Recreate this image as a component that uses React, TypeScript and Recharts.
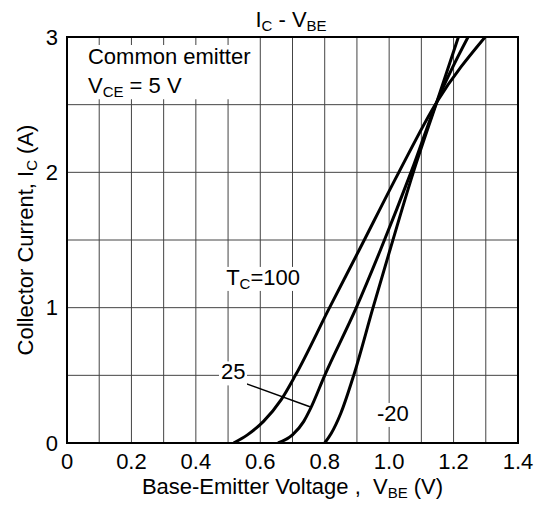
import React from 'react';
import {
  LineChart,
  Line,
  XAxis,
  YAxis,
  CartesianGrid,
  ReferenceArea,
  ReferenceLine,
  ReferenceDot,
} from 'recharts';

const FONT = '"Liberation Sans", Arial, Helvetica, sans-serif';
const FS = 22;
const SUB = 15;

// Axis ticks
const xTicks = [0, 0.1, 0.2, 0.3, 0.4, 0.5, 0.6, 0.7, 0.8, 0.9, 1.0, 1.1, 1.2, 1.3, 1.4];
const xTickLabels = ['0', '', '0.2', '', '0.4', '', '0.6', '', '0.8', '', '1.0', '', '1.2', '', '1.4'];
const yTicks = [0, 0.5, 1, 1.5, 2, 2.5, 3];
const yTickLabels = ['0', '', '1', '', '2', '', '3'];

// Series: Tc = 100
const vbe100 = [0.517, 0.56, 0.61, 0.665, 0.709, 0.815, 0.907, 1.03, 1.148, 1.298];
const ic100 = [0, 0.06, 0.16, 0.32, 0.5, 1.0, 1.426, 2.0, 2.52, 3.0];
// Series: Tc = 25
const vbe25 = [0.655, 0.7, 0.735, 0.755, 0.8, 0.898, 0.973, 1.071, 1.148, 1.245];
const ic25 = [0, 0.06, 0.16, 0.25, 0.5, 1.0, 1.426, 2.02, 2.52, 3.0];
// Series: Tc = -20
const vbeM20 = [0.8, 0.82, 0.85, 0.89, 0.95, 1.003, 1.075, 1.148, 1.215];
const icM20 = [0, 0.07, 0.22, 0.5, 1.0, 1.43, 2.0, 2.52, 3.0];

const toData = (xs: number[], ys: number[]) => xs.map((v, k) => ({ v, i: ys[k] }));
const data100 = toData(vbe100, ic100);
const data25 = toData(vbe25, ic25);
const dataM20 = toData(vbeM20, icM20);

const txt = { fontFamily: FONT, fontSize: FS, fill: '#000', whiteSpace: 'pre' } as const;

const xFmt = (v: number) => xTickLabels[Math.round(v * 10)] ?? '';
const yFmt = (v: number) => yTickLabels[Math.round(v * 2)] ?? '';

function TextBox({ cx, cy, w, children }: any) {
  return (
    <g>
      <rect x={cx - 2} y={cy - 18} width={w} height={24} fill="#fff" />
      <text x={cx} y={cy} style={txt as any}>
        {children}
      </text>
    </g>
  );
}

export default function App() {
  return (
    <div style={{ position: 'absolute', left: 0, top: 0, width: 542, height: 505, background: '#fff' }}>
      <svg width={542} height={40} style={{ position: 'absolute', left: 0, top: 0 }}>
        <text x={291} y={27} textAnchor="middle" style={txt as any}>
          I<tspan fontSize={SUB} dy={4}>C</tspan>
          <tspan fontSize={FS} dy={-4}> - V</tspan>
          <tspan fontSize={SUB} dy={4}>BE</tspan>
        </text>
      </svg>
      <LineChart width={542} height={505} margin={{ top: 37, right: 24, left: 0, bottom: 0 }}>
        <CartesianGrid stroke="#444" strokeWidth={1} />
        <XAxis
          type="number"
          dataKey="v"
          domain={[0, 1.4]}
          ticks={xTicks}
          tickFormatter={xFmt}
          interval={0}
          height={62}
          tickLine={false}
          axisLine={false}
          tickSize={0}
          tickMargin={10}
          tick={{ ...txt }}
          allowDataOverflow
          label={(props: any) => {
            const vb = props.viewBox || {};
            const cx = (vb.x ?? 67) + (vb.width ?? 451) / 2;
            const y = (vb.y ?? 443) + 51;
            return (
              <text x={cx} y={y} textAnchor="middle" style={txt as any} xmlSpace="preserve">
                {'Base-Emitter Voltage ,  V'}<tspan fontSize={SUB} dy={4}>BE</tspan>
                <tspan fontSize={FS} dy={-4}>{' (V)'}</tspan>
              </text>
            );
          }}
        />
        <YAxis
          type="number"
          domain={[0, 3]}
          ticks={yTicks}
          tickFormatter={yFmt}
          interval={0}
          width={67}
          tickLine={false}
          axisLine={false}
          tickSize={0}
          tickMargin={9}
          tick={{ ...txt }}
          allowDataOverflow
          label={(props: any) => {
            const vb = props.viewBox || {};
            const cy = (vb.y ?? 37) + (vb.height ?? 406) / 2;
            const x = 33;
            return (
              <text x={x} y={cy} textAnchor="middle" transform={`rotate(-90 ${x} ${cy})`} style={txt as any}>
                Collector Current, I<tspan fontSize={SUB} dy={4}>C</tspan>
                <tspan fontSize={FS} dy={-4}>{' (A)'}</tspan>
              </text>
            );
          }}
        />
        <ReferenceArea x1={0.003} x2={0.58} y1={2.54} y2={2.94} fill="#fff" fillOpacity={1} stroke="none" />
        <ReferenceLine
          segment={[
            { x: 0.547, y: 0.446 },
            { x: 0.754, y: 0.268 },
          ]}
          stroke="#000"
          strokeWidth={1.5}
        />
        <Line data={data100} dataKey="i" type="monotone" stroke="#000" strokeWidth={3} dot={false} isAnimationActive={false} />
        <Line data={data25} dataKey="i" type="monotone" stroke="#000" strokeWidth={3} dot={false} isAnimationActive={false} />
        <Line data={dataM20} dataKey="i" type="monotone" stroke="#000" strokeWidth={3} dot={false} isAnimationActive={false} />
        <ReferenceArea x1={0} x2={1.4} y1={0} y2={3} fill="none" stroke="#000" strokeWidth={2} />
        <ReferenceDot
          x={0.065}
          y={2.8}
          r={1}
          shape={(p: any) => (
            <g>
              <text x={p.cx} y={p.cy} style={txt as any}>Common emitter</text>
              <text x={p.cx} y={p.cy + 29} style={txt as any}>
                V<tspan fontSize={SUB} dy={4}>CE</tspan>
                <tspan fontSize={FS} dy={-4}>{' = 5 V'}</tspan>
              </text>
            </g>
          )}
        />
        <ReferenceDot
          x={0.494}
          y={1.168}
          r={1}
          shape={(p: any) => (
            <TextBox cx={p.cx} cy={p.cy} w={80}>
              T<tspan fontSize={SUB} dy={4}>C</tspan>
              <tspan fontSize={FS} dy={-4}>=100</tspan>
            </TextBox>
          )}
        />
        <ReferenceDot
          x={0.478}
          y={0.47}
          r={1}
          shape={(p: any) => (
            <TextBox cx={p.cx} cy={p.cy} w={28}>25</TextBox>
          )}
        />
        <ReferenceDot
          x={0.962}
          y={0.163}
          r={1}
          shape={(p: any) => (
            <TextBox cx={p.cx} cy={p.cy} w={37}>-20</TextBox>
          )}
        />
      </LineChart>
    </div>
  );
}
